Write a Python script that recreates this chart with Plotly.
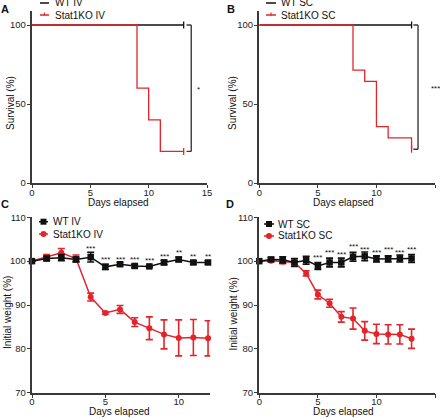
import plotly.graph_objects as go

# ---------------- data ----------------
# Panel A (survival, IV)
surv_a_wt_days = [0, 13]
surv_a_wt = [100, 100]
surv_a_ko_days = [0, 9, 10, 11, 13]
surv_a_ko = [100, 60, 40, 20, 20]
sig_a = "*"

# Panel B (survival, SC)
surv_b_wt_days = [0, 13]
surv_b_wt = [100, 100]
surv_b_ko_days = [0, 8, 9, 10, 11, 13]
surv_b_ko = [100, 71.4, 64.3, 35.7, 28.6, 21.4]
sig_b = "***"

# Panel C (weight, IV)
days_c = list(range(13))
wt_iv = [100, 100.6, 100.8, 100.4, 100.9, 98.7, 99.3, 98.9, 98.8, 99.7, 100.4, 99.7, 99.7]
wt_iv_err = [0, 0.5, 0.7, 0.5, 1.1, 0.6, 0.4, 0.4, 0.2, 0.5, 0.5, 0.4, 0.4]
ko_iv = [100, 101.0, 101.9, 100.6, 91.8, 88.2, 89.0, 86.1, 84.7, 83.3, 82.5, 82.6, 82.4]
ko_iv_err = [0, 0.5, 1.0, 0.8, 0.9, 0.3, 0.9, 1.0, 2.6, 3.3, 4.1, 4.1, 4.0]
stars_c_days = [4, 5, 6, 7, 8, 9, 10, 11, 12]
stars_c_y = [103.3, 100.9, 100.9, 100.9, 100.5, 101.6, 102.5, 101.6, 101.6]
stars_c_txt = ["***", "***", "***", "***", "***", "***", "**", "**", "**"]

# Panel D (weight, SC)
days_d = list(range(14))
wt_sc = [100, 100.4, 100.3, 99.7, 100.2, 98.9, 99.7, 99.7, 101.0, 101.1, 100.5, 100.5, 100.6, 100.6]
wt_sc_err = [0, 0.4, 0.7, 0.9, 0.9, 0.8, 1.0, 1.0, 1.0, 1.0, 0.7, 0.7, 0.8, 0.9]
ko_sc = [100, 100.1, 99.9, 99.7, 97.2, 92.4, 90.4, 87.3, 86.9, 84.1, 83.4, 83.3, 83.3, 82.3]
ko_sc_err = [0, 0.3, 0.5, 0.4, 0.6, 1.0, 0.9, 1.2, 2.4, 2.1, 2.2, 2.2, 2.2, 2.2]
stars_d_days = [5, 6, 7, 8, 9, 10, 11, 12, 13]
stars_d_y = [101.2, 102.5, 101.9, 103.9, 103.2, 102.5, 103.2, 102.5, 103.2]
stars_d_txt = ["***"] * 9

# ---------------- style ----------------
W, H = 440, 418
RED = "#e3242b"
BLK = "#111111"
AX = "#3a3a3a"
FONT = "Liberation Sans, Arial, sans-serif"

def px(x):
    return x / W

def py(y):
    return 1 - y / H

fig = go.Figure()

# survival traces
def surv(xs, ys, color, xa, ya):
    fig.add_trace(go.Scatter(
        x=xs, y=ys, mode="lines", line=dict(color=color, width=1.3, shape="hv"),
        xaxis=xa, yaxis=ya, showlegend=False, cliponaxis=False, hoverinfo="skip"))
    fig.add_trace(go.Scatter(
        x=[xs[-1]], y=[ys[-1]], mode="markers",
        marker=dict(symbol="line-ns", size=5, line=dict(color=color, width=1.3)),
        xaxis=xa, yaxis=ya, showlegend=False, cliponaxis=False, hoverinfo="skip"))

surv(surv_a_wt_days, surv_a_wt, BLK, "x", "y")
surv(surv_a_ko_days, surv_a_ko, RED, "x", "y")
surv(surv_b_wt_days, surv_b_wt, BLK, "x2", "y2")
surv(surv_b_ko_days, surv_b_ko, RED, "x2", "y2")

# weight traces
def weight(xs, ys, err, color, symbol, size, xa, ya):
    fig.add_trace(go.Scatter(
        x=xs, y=ys, mode="lines+markers",
        line=dict(color=color, width=1.5),
        marker=dict(symbol=symbol, size=size, color=color),
        error_y=dict(type="data", array=err, color=color, thickness=1.6, width=3.5),
        xaxis=xa, yaxis=ya, showlegend=False, cliponaxis=False, hoverinfo="skip"))

weight(days_c, ko_iv, ko_iv_err, RED, "circle", 6, "x3", "y3")
weight(days_c, wt_iv, wt_iv_err, BLK, "square", 6.5, "x3", "y3")
weight(days_d, ko_sc, ko_sc_err, RED, "circle", 6, "x4", "y4")
weight(days_d, wt_sc, wt_sc_err, BLK, "square", 6.5, "x4", "y4")

# axes
tickfont = dict(family=FONT, size=9.5, color="#222")
def axis(domain, rng, tickvals, anchor, standoff):
    return dict(domain=domain, range=rng, tickvals=tickvals, anchor=anchor,
                showline=True, linecolor=AX, linewidth=1.5, ticks="outside",
                ticklen=3.5, tickwidth=1.2, tickcolor=AX, showgrid=False,
                zeroline=False, tickfont=tickfont, fixedrange=True, automargin=False,
                ticklabelstandoff=standoff)

dom_ax = [px(32), px(207)]
dom_bx = [px(259.3), px(435)]
dom_cx = [px(32), px(32 + 12.15 * 14.67)]
dom_dx = [px(259.3), px(435)]
dom_top_y = [py(183), py(183 - 109 * 1.58)]
dom_bot_y = [py(392.7), py(217.3)]

XS, YS = -4, -1
fig.update_layout(
    xaxis=axis(dom_ax, [0, 15], [0, 5, 10, 15], "y", XS),
    yaxis=axis(dom_top_y, [0, 109], [0, 50, 100], "x", YS),
    xaxis2=axis(dom_bx, [0, 15], [0, 5, 10, 15], "y2", XS),
    yaxis2=axis(dom_top_y, [0, 109], [0, 50, 100], "x2", YS),
    xaxis3=axis(dom_cx, [0, 12.15], [0, 5, 10], "y3", XS),
    yaxis3=axis(dom_bot_y, [70, 110], [70, 80, 90, 100, 110], "x3", YS),
    xaxis4=axis(dom_dx, [0, 15], [0, 5, 10, 15], "y4", XS),
    yaxis4=axis(dom_bot_y, [70, 110], [70, 80, 90, 100, 110], "x4", YS),
)

ann = []
shapes = []

def text(x, y, s, size=10, bold=False, xanchor="center", angle=0, xref="paper", yref="paper", yshift=0):
    ann.append(dict(x=x, y=y, xref=xref, yref=yref, text=("<b>%s</b>" % s) if bold else s,
                    showarrow=False, xanchor=xanchor, yanchor="middle", textangle=angle,
                    yshift=yshift, font=dict(family=FONT, size=size, color="#111")))

# panel letters
text(px(4.5), py(9), "A", 11, True)
text(px(231), py(9), "B", 11, True)
text(px(5), py(203.5), "C", 11, True)
text(px(230), py(204), "D", 11, True)

# axis titles
text(px(118), py(202.7), "Days elapsed", 10)
text(px(343), py(202.7), "Days elapsed", 10)
text(px(119), py(411.7), "Days elapsed", 10)
text(px(343), py(411.7), "Days elapsed", 10)
text(px(10), py(103), "Survival (%)", 10, angle=-90)
text(px(232), py(103), "Survival (%)", 10, angle=-90)
text(px(7), py(313), "Initial weight (%)", 10, angle=-90)
text(px(232.5), py(314), "Initial weight (%)", 10, angle=-90)

# legends (manual, compact)
def legend_item(x0, x1, y, color, label, tx, marker=None):
    shapes.append(dict(type="line", xref="paper", yref="paper", x0=px(x0), x1=px(x1),
                       y0=py(y), y1=py(y), line=dict(color=color, width=1.5)))
    cx = (x0 + x1) / 2
    if marker == "tick":
        shapes.append(dict(type="line", xref="paper", yref="paper", x0=px(cx), x1=px(cx),
                           y0=py(y - 2.5), y1=py(y + 0.5), line=dict(color=color, width=1.2)))
    elif marker == "square":
        shapes.append(dict(type="rect", xref="paper", yref="paper", x0=px(cx - 3), x1=px(cx + 3),
                           y0=py(y - 3), y1=py(y + 3), fillcolor=color, line=dict(width=0)))
    elif marker == "circle":
        shapes.append(dict(type="circle", xref="paper", yref="paper", x0=px(cx - 3), x1=px(cx + 3),
                           y0=py(y - 3), y1=py(y + 3), fillcolor=color, line=dict(width=0)))
    text(px(tx), py(y), label, 10, xanchor="left")

legend_item(40, 49, 3, BLK, "WT IV", 53)
legend_item(40, 49, 15, RED, "Stat1KO IV", 53, "tick")
legend_item(266, 276, 3, BLK, "WT SC", 279)
legend_item(266, 276, 15, RED, "Stat1KO SC", 279, "tick")
legend_item(39, 48, 221.7, BLK, "WT IV", 50.5, "square")
legend_item(39, 48, 234, RED, "Stat1KO IV", 50.5, "circle")
legend_item(264, 274, 224, BLK, "WT SC", 276, "square")
legend_item(264, 274, 236, RED, "Stat1KO SC", 276, "circle")

# significance brackets for survival
def bracket(xa, ya, xpos, top, bottom, label, star_x, size):
    br = dict(color=AX, width=1.4)
    shapes.append(dict(type="line", xref=xa, yref=ya, x0=xpos, x1=xpos, y0=top, y1=bottom, line=br))
    shapes.append(dict(type="line", xref=xa, yref=ya, x0=xpos - 0.4, x1=xpos, y0=top, y1=top, line=br))
    shapes.append(dict(type="line", xref=xa, yref=ya, x0=xpos - 0.4, x1=xpos, y0=bottom, y1=bottom, line=br))
    ann.append(dict(x=star_x, y=(top + bottom) / 2, xref=xa, yref=ya, text=label, showarrow=False,
                    xanchor="center", yanchor="middle", yshift=-1,
                    font=dict(family=FONT, size=size, color="#111")))

bracket("x", "y", 13.65, surv_a_wt[-1], surv_a_ko[-1], sig_a, 14.3, 8)
bracket("x2", "y2", 13.55, surv_b_wt[-1], surv_b_ko[-1], sig_b, 15.0, 8)

# weight significance stars
for d, yv, s in zip(stars_c_days, stars_c_y, stars_c_txt):
    ann.append(dict(x=d, y=yv, xref="x3", yref="y3", text=s, showarrow=False, yanchor="middle",
                    yshift=-2, font=dict(family=FONT, size=8, color="#111")))
for d, yv, s in zip(stars_d_days, stars_d_y, stars_d_txt):
    ann.append(dict(x=d, y=yv, xref="x4", yref="y4", text=s, showarrow=False, yanchor="middle",
                    yshift=-2, font=dict(family=FONT, size=8, color="#111")))

fig.update_layout(
    width=W, height=H, margin=dict(l=0, r=0, t=0, b=0),
    paper_bgcolor="white", plot_bgcolor="white", showlegend=False,
    annotations=ann, shapes=shapes, font=dict(family=FONT),
)

fig.write_html("out.html", config={"displayModeBar": False},
               post_script="document.body.style.margin='0';document.body.style.padding='0';")
